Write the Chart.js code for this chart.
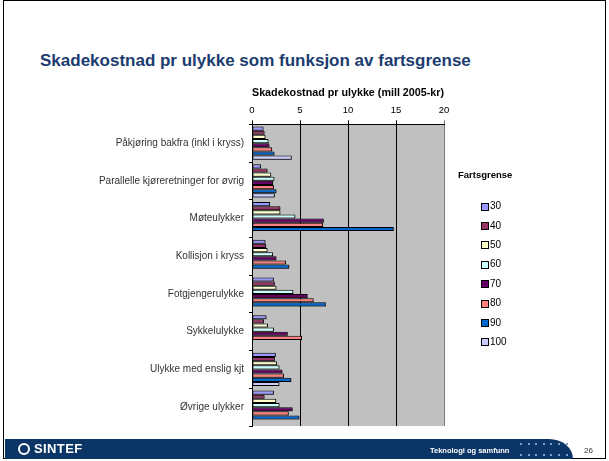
<!DOCTYPE html>
<html>
<head>
<meta charset="utf-8">
<script src="https://cdn.jsdelivr.net/npm/chart.js@4.4.1/dist/chart.umd.min.js"></script>
<style>
  html, body { margin:0; padding:0; background:#fff; }
  body { width:609px; height:461px; position:relative; overflow:hidden; font-family:"Liberation Sans", Arial, sans-serif; }
  #frame { position:absolute; left:3px; top:0; width:601px; height:457px; border:1.5px solid #000; }
  #title { position:absolute; left:40px; top:51px; font-size:17px; font-weight:bold; color:#1b3c70; white-space:nowrap; }
  #chartbox { position:absolute; left:0; top:75px; width:460px; height:365px; }
  #legend { position:absolute; left:458px; top:168px; font-size:10px; color:#000; }
  #legend .lt { font-weight:bold; font-size:9.5px; height:14px; line-height:14px; margin-bottom:20px; }
  #legend .it { position:relative; height:19.4px; margin-left:23px; display:flex; align-items:center; margin-top:-5px; margin-bottom:5px; }
  #legend .sw { display:inline-block; width:6px; height:6px; border:1px solid #000; margin-right:1px; }
  #legend .tx { display:inline-block; line-height:11px; position:relative; top:-1px; }
  #footer { position:absolute; left:5px; top:439px; width:568px; height:20px; background:#0c3567; border-top-right-radius:24px 20px; }
  #logo { position:absolute; left:18px; top:441px; color:#fff; font-weight:bold; font-size:13px; letter-spacing:0.4px; white-space:nowrap; }
  #logo span.c { display:inline-block; width:12px; height:12px; border:2px solid #fff; border-radius:50%; vertical-align:-2px; margin-right:4px; box-sizing:border-box; }
  #tek { position:absolute; left:430px; top:446px; color:#fff; font-weight:bold; font-size:7.5px; white-space:nowrap; }
  #pg { position:absolute; left:584px; top:446px; color:#333; font-size:8px; }
  .dot { position:absolute; width:2px; height:2px; background:#7f9ed0; }
</style>
</head>
<body>
<div id="frame"></div>
<div id="title">Skadekostnad pr ulykke som funksjon av fartsgrense</div>
<div id="chartbox"><canvas id="c" width="460" height="365"></canvas></div>
<div id="legend"></div>
<div id="footer"></div>
<div id="logo"><span class="c"></span>SINTEF</div>
<div id="tek">Teknologi og samfunn</div>
<div id="pg">26</div>
<div id="dots"></div>
<script>
const categories = [
  "Påkjøring bakfra (inkl i kryss)",
  "Parallelle kjøreretninger for øvrig",
  "Møteulykker",
  "Kollisjon i kryss",
  "Fotgjengerulykke",
  "Sykkelulykke",
  "Ulykke med enslig kjt",
  "Øvrige ulykker"
];
const seriesLabels = ["30", "40", "50", "60", "70", "80", "90", "100"];
const seriesColors = ["#9999FF", "#993366", "#FFFFCC", "#CCFFFF", "#660066", "#FF8080", "#0066CC", "#CCCCFF"];

const v30  = [1.20, 0.93, 1.89, 1.41, 2.28, 1.51, 2.48, 2.28];
const v40  = [1.31, 1.62, 2.96, 1.48, 2.38, 1.24, 2.38, 1.31];
const v50  = [1.41, 2.00, 2.96, 1.62, 2.55, 1.66, 2.59, 2.52];
const v60  = [1.72, 2.34, 4.52, 2.20, 4.31, 2.28, 2.86, 2.87];
const v70  = [1.82, 2.20, 7.48, 2.55, 5.80, 3.73, 3.17, 4.24];
const v80  = [2.10, 2.28, 7.41, 3.55, 6.42, 5.21, 3.34, 3.83];
const v90  = [2.34, 2.55, 14.77, 3.89, 7.69, null, 4.10, 4.94];
const v100 = [4.14, 2.38, null, null, null, null, 2.86, null];
const seriesValues = [v30, v40, v50, v60, v70, v80, v90, v100];

const xTicks = [0, 5, 10, 15, 20];
const chartTitle = "Skadekostnad pr ulykke (mill 2005-kr)";
const legendTitle = "Fartsgrense";

const FONT = '"Liberation Sans", Arial, sans-serif';

// legend (HTML)
const lg = document.getElementById('legend');
let h = '<div class="lt">' + legendTitle + '</div>';
seriesLabels.forEach((l, i) => {
  h += '<div class="it"><span class="sw" style="background:' + seriesColors[i] + '"></span><span class="tx">' + l + '</span></div>';
});
lg.innerHTML = h;

// footer dots
const dots = document.getElementById('dots');
let dh = '';
for (let r = 0; r < 2; r++) for (let k = 0; k < 7; k++) {
  dh += '<div class="dot" style="left:' + (520 + k * 7.6) + 'px;top:' + (443 + r * 10.5) + 'px"></div>';
}
dots.innerHTML = dh;

const bgPlugin = {
  id: 'bg',
  beforeDraw(chart) {
    const a = chart.chartArea, ctx = chart.ctx;
    ctx.save();
    ctx.fillStyle = '#C0C0C0';
    ctx.fillRect(a.left, a.top, a.right - a.left, a.bottom - a.top);
    ctx.restore();
  },
  beforeDatasetsDraw(chart) {
    const ctx = chart.ctx;
    ctx.save();
    ctx.shadowColor = 'rgba(0,0,0,0.35)';
    ctx.shadowOffsetX = 1;
    ctx.shadowOffsetY = 1;
    ctx.shadowBlur = 0;
  },
  afterDatasetsDraw(chart) {
    chart.ctx.restore();
  }
};

new Chart(document.getElementById('c'), {
  type: 'bar',
  data: {
    labels: categories,
    datasets: seriesLabels.map((l, i) => ({
      label: l,
      data: seriesValues[i],
      backgroundColor: seriesColors[i],
      borderColor: '#000',
      borderWidth: 1,
      borderSkipped: false,
      categoryPercentage: 0.88,
      barPercentage: 1.0
    }))
  },
  options: {
    indexAxis: 'y',
    responsive: false,
    animation: false,
    layout: { padding: { left: 0, right: 16, top: 0, bottom: 14 } },
    plugins: {
      legend: { display: false },
      tooltip: { enabled: false },
      title: {
        display: true,
        text: chartTitle,
        fullSize: false,
        color: '#000',
        font: { family: FONT, size: 11, weight: 'bold' },
        padding: { top: 11.1, bottom: 3.4 }
      }
    },
    scales: {
      x: {
        position: 'top',
        min: 0, max: 20,
        afterBuildTicks(s) { s.ticks = xTicks.map(v => ({ value: v })); },
        afterFit(s) { s.height = 21.6; },
        ticks: { color: '#000', font: { family: FONT, size: 9.5 }, padding: 4, maxRotation: 0 },
        grid: {
          color: (c) => (c.tick && c.tick.value === 20) ? '#7a7a7a' : '#000',
          lineWidth: 1,
          tickLength: 4,
          drawTicks: true
        },
        border: { display: true, color: '#000', width: 1 }
      },
      y: {
        afterFit(s) { s.width = 252; },
        ticks: { color: '#333', font: { family: FONT, size: 10 }, padding: 5, autoSkip: false },
        grid: { drawOnChartArea: false, tickLength: 3, color: '#000', offset: true },
        border: { display: true, color: '#000', width: 1 }
      }
    }
  },
  plugins: [bgPlugin]
});
</script>
</body>
</html>
